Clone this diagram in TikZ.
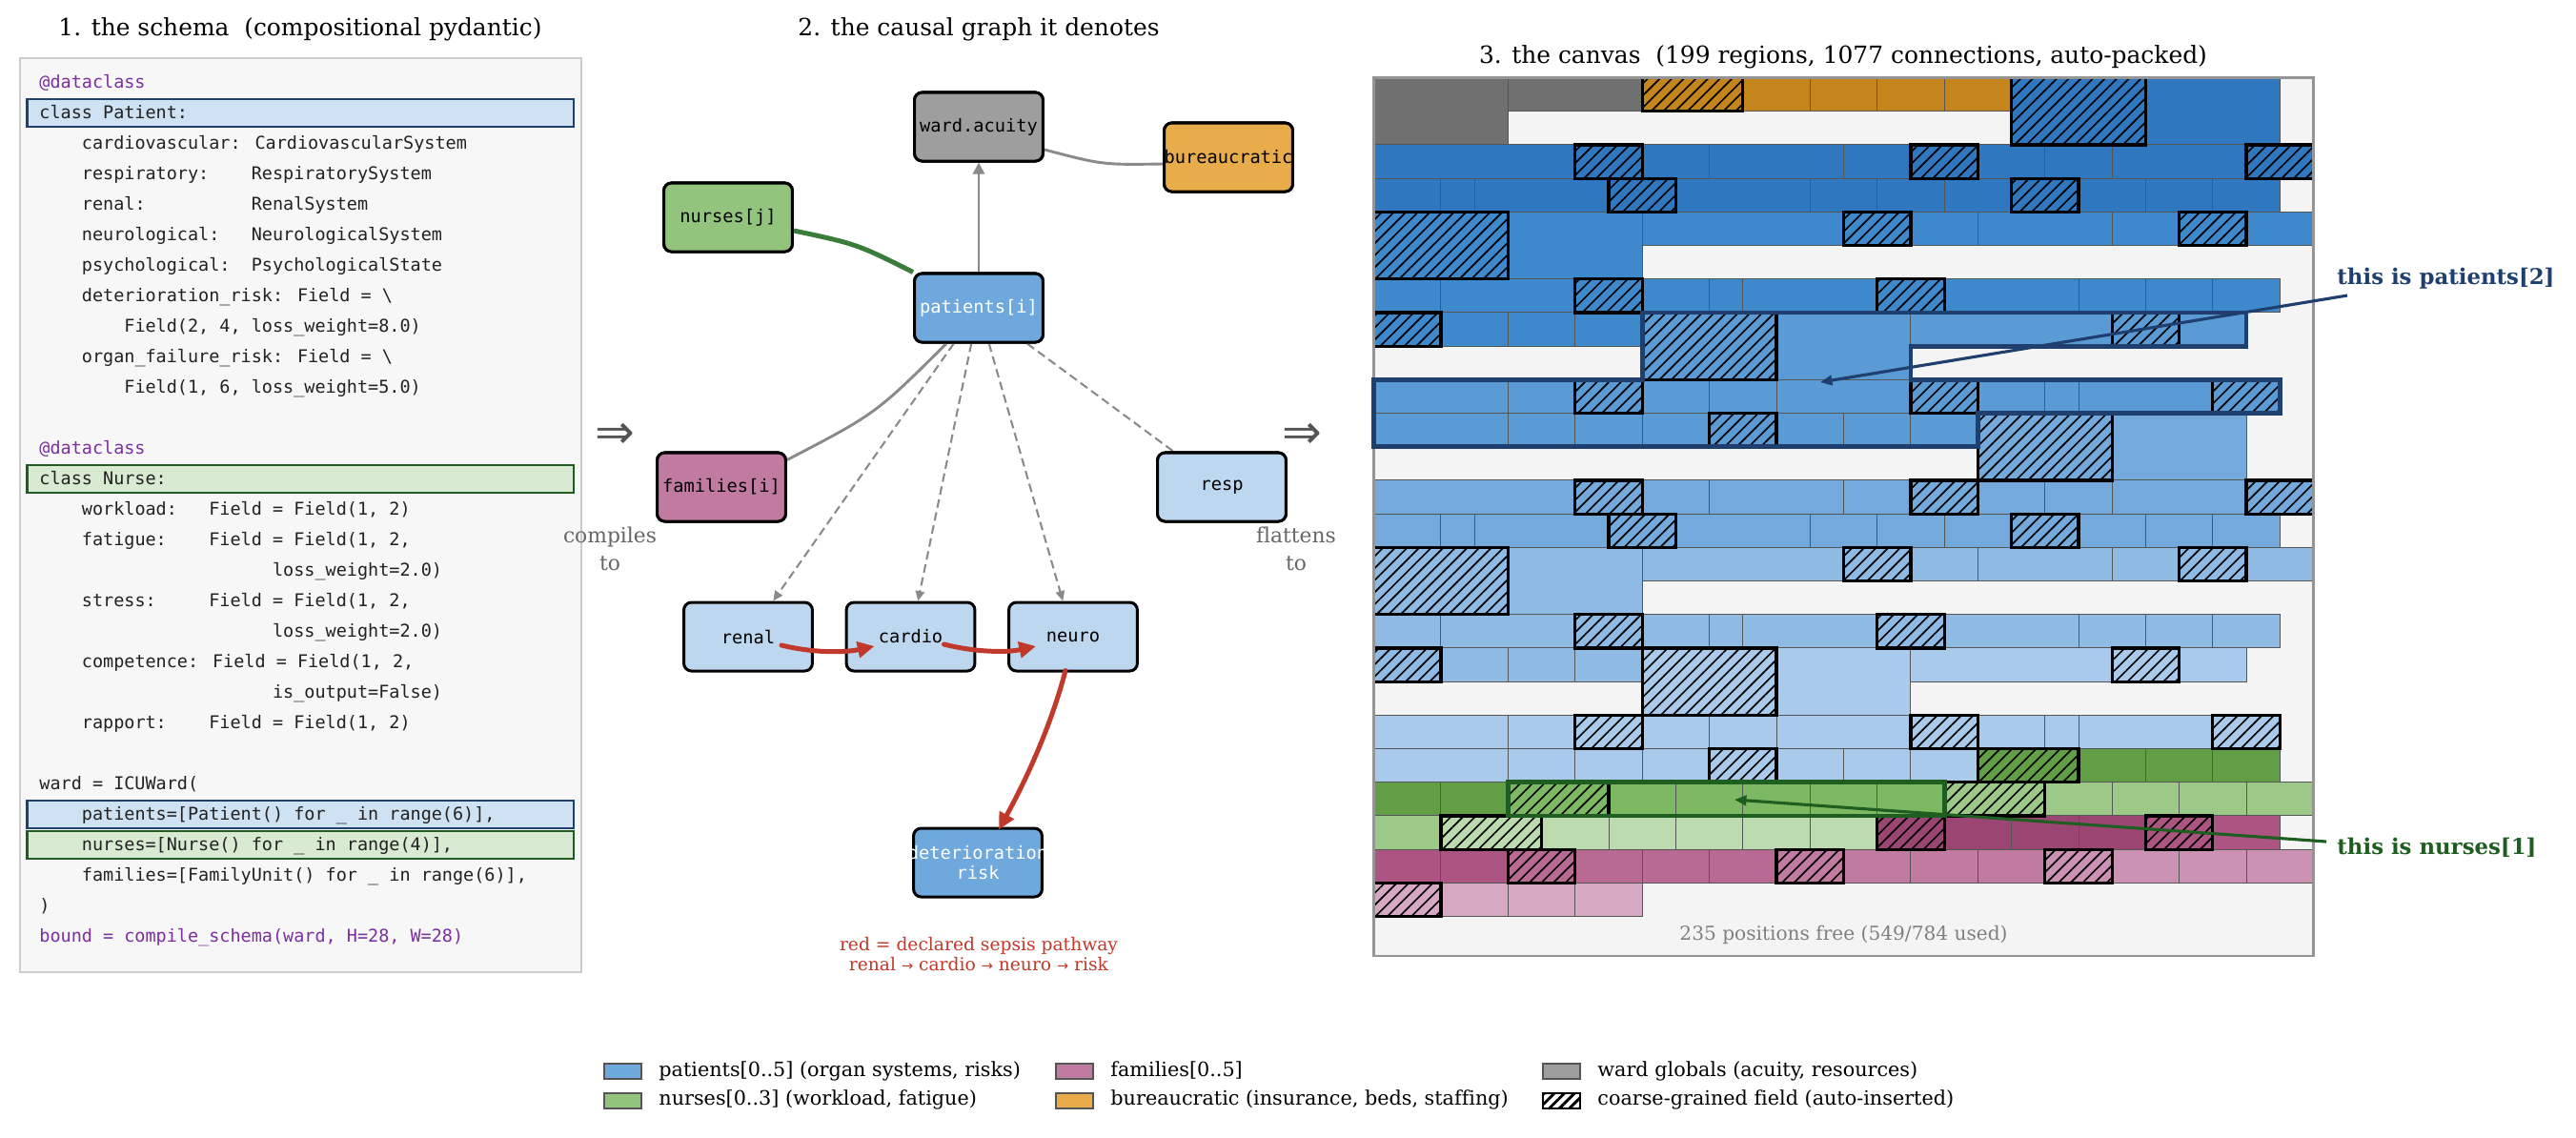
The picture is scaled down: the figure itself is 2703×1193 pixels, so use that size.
\documentclass[tikz,border=0pt]{standalone}
\usepackage{fontspec}
\setmainfont{DejaVu Serif}[Ligatures=NoCommon]
\newfontfamily\codefont{DejaVu Sans Mono}
\newfontfamily\symfont{DejaVu Sans}
\usetikzlibrary{arrows.meta,patterns.meta,calc}

\definecolor{p0}{HTML}{2F78BF}
\definecolor{p1}{HTML}{3D89CC}
\definecolor{p2}{HTML}{5A9AD5}
\definecolor{p3}{HTML}{73A9DB}
\definecolor{p4}{HTML}{8EBAE3}
\definecolor{p5}{HTML}{A9CAEA}
\definecolor{n0}{HTML}{629E46}
\definecolor{n1}{HTML}{7DB862}
\definecolor{n2}{HTML}{9DC988}
\definecolor{n3}{HTML}{BBDBAE}
\definecolor{f0}{HTML}{9B4672}
\definecolor{f1}{HTML}{AD5582}
\definecolor{f2}{HTML}{B96A93}
\definecolor{f3}{HTML}{C27BA0}
\definecolor{f4}{HTML}{CC92B3}
\definecolor{f5}{HTML}{D6A8C2}
\definecolor{wg}{HTML}{707070}
\definecolor{bo}{HTML}{C4861C}
\definecolor{cellgrid}{HTML}{555555}
\definecolor{freebg}{HTML}{F4F4F4}
\definecolor{codepurple}{HTML}{7B2FA0}
\definecolor{codetext}{HTML}{222222}
\definecolor{navy}{HTML}{1F3F6E}
\definecolor{dgreen}{HTML}{1E5E20}
\definecolor{sepsis}{HTML}{C0392B}
\definecolor{hlblue}{HTML}{CFE2F3}
\definecolor{hlgreen}{HTML}{D9EAD3}
\definecolor{nodegray}{HTML}{9E9E9E}
\definecolor{nodeorange}{HTML}{E8AD4A}
\definecolor{nodegreen}{HTML}{93C47D}
\definecolor{nodeblue}{HTML}{6FA8DC}
\definecolor{nodepink}{HTML}{C27BA0}
\definecolor{nodelight}{HTML}{BDD7EE}
\definecolor{edgegray}{HTML}{8A8A8A}
\definecolor{edgegreen}{HTML}{3A7D3A}

\newcommand\cnorm[5]{\fill[#5] (#1,#2) rectangle ++(#3,#4); \draw[cellline] (#1,#2) rectangle ++(#3,#4);}
\newcommand\chatch[5]{\fill[#5] (#1,#2) rectangle ++(#3,#4); \fill[hatchfill] (#1,#2) rectangle ++(#3,#4); \draw[hatchline] (#1,#2) rectangle ++(#3,#4);}
\newcommand\codeln[3]{\node[codestyle, text=#3, anchor=base west] (code#1) at (41,{92.7+32*#1}) {#2};}

\begin{document}
\begin{tikzpicture}[x=0.4818pt,y=-0.4818pt,
  cellline/.style={draw=cellgrid, line width=0.5pt},
  hatchfill/.style={pattern={Lines[angle=45,distance=4.3pt,line width=0.8pt]}, pattern color=black},
  hatchline/.style={draw=black, line width=1.55pt},
  gnode/.style={draw=black, line width=1.45pt, rounded corners=3.9pt, minimum width=65pt, minimum height=34.7pt, inner sep=0pt},
  gtext/.style={font=\codefont\fontsize{9}{10.5}\selectfont, align=center, inner sep=0pt},
  codestyle/.style={font=\codefont\fontsize{8.9}{10}\selectfont, inner sep=0pt},
  titlestyle/.style={font=\fontsize{12}{14}\selectfont, anchor=base, inner sep=0pt},
  legtext/.style={font=\fontsize{10}{12}\selectfont, anchor=base west, inner sep=0pt},
  legpatch/.style={draw=cellgrid, line width=1.2pt},
  grayedge/.style={draw=edgegray, line width=1.4pt},
  dashedge/.style={draw=edgegray, line width=1pt, dash pattern=on 4.3pt off 2.4pt},
  rededge/.style={draw=sepsis, line width=2.4pt, line cap=round, -{Triangle[length=8.5pt,width=8pt]}},
]
\useasboundingbox (0,0) rectangle (2703,1193);
\fill[white] (0,0) rectangle (2703,1193);

% ---------------- titles
\node[titlestyle] (t1) at (315,37) {1. the schema~~(compositional pydantic)};
\node[titlestyle] (t2) at (1027,37) {2. the causal graph it denotes};
\node[titlestyle] (t3) at (1934,66) {3. the canvas~~(199 regions, 1077 connections, auto-packed)};

% ---------------- panel 1: code
\draw[fill=black!3, draw=black!20, line width=1.2pt] (21,61) rectangle (610,1020);
\draw[fill=hlblue, draw=navy, line width=1.3pt] (28.5,104) rectangle (602,133);
\draw[fill=hlgreen, draw=dgreen, line width=1.3pt] (28.5,488) rectangle (602,517);
\draw[fill=hlblue, draw=navy, line width=1.3pt] (28.5,840) rectangle (602,869);
\draw[fill=hlgreen, draw=dgreen, line width=1.3pt] (28.5,872) rectangle (602,901);

\codeln{0}{@dataclass}{codepurple}
\codeln{1}{class Patient:}{codetext}
\codeln{2}{~~~~cardiovascular: CardiovascularSystem}{codetext}
\codeln{3}{~~~~respiratory:~~~~RespiratorySystem}{codetext}
\codeln{4}{~~~~renal:~~~~~~~~~~RenalSystem}{codetext}
\codeln{5}{~~~~neurological:~~~NeurologicalSystem}{codetext}
\codeln{6}{~~~~psychological:~~PsychologicalState}{codetext}
\codeln{7}{~~~~deterioration\_risk: Field = \textbackslash}{codetext}
\codeln{8}{~~~~~~~~Field(2, 4, loss\_weight=8.0)}{codetext}
\codeln{9}{~~~~organ\_failure\_risk: Field = \textbackslash}{codetext}
\codeln{10}{~~~~~~~~Field(1, 6, loss\_weight=5.0)}{codetext}
\codeln{12}{@dataclass}{codepurple}
\codeln{13}{class Nurse:}{codetext}
\codeln{14}{~~~~workload:~~~Field = Field(1, 2)}{codetext}
\codeln{15}{~~~~fatigue:~~~~Field = Field(1, 2,}{codetext}
\codeln{16}{~~~~~~~~~~~~~~~~~~~~~~loss\_weight=2.0)}{codetext}
\codeln{17}{~~~~stress:~~~~~Field = Field(1, 2,}{codetext}
\codeln{18}{~~~~~~~~~~~~~~~~~~~~~~loss\_weight=2.0)}{codetext}
\codeln{19}{~~~~competence: Field = Field(1, 2,}{codetext}
\codeln{20}{~~~~~~~~~~~~~~~~~~~~~~is\_output=False)}{codetext}
\codeln{21}{~~~~rapport:~~~~Field = Field(1, 2)}{codetext}
\codeln{23}{ward = ICUWard(}{codetext}
\codeln{24}{~~~~patients=[Patient() for \_ in range(6)],}{codetext}
\codeln{25}{~~~~nurses=[Nurse() for \_ in range(4)],}{codetext}
\codeln{26}{~~~~families=[FamilyUnit() for \_ in range(6)],}{codetext}
\codeln{27}{)}{codetext}
\codeln{28}{bound = compile\_schema(ward, H=28, W=28)}{codepurple}

% ---------------- panel 2: graph nodes
\node[gnode, fill=nodegray] (ward) at (1027,133) {};
\node[gnode, fill=nodeorange] (bureau) at (1289,165) {};
\node[gnode, fill=nodegreen] (nurse) at (764,228) {};
\node[gnode, fill=nodeblue] (patient) at (1027,323) {};
\node[gnode, fill=nodepink] (family) at (757,511) {};
\node[gnode, fill=nodelight] (resp) at (1282,511) {};
\node[gnode, fill=nodelight] (renal) at (785,668) {};
\node[gnode, fill=nodelight] (cardio) at (955.5,668) {};
\node[gnode, fill=nodelight] (neuro) at (1126,668) {};
\node[gnode, fill=nodeblue] (det) at (1026,905) {};

% connectors (under the labels)
\coordinate (bureauS) at ($(bureau.west)+(0,7)$);
\coordinate (wardE) at ($(ward.east)+(0,24)$);
\coordinate (nurseE) at ($(nurse.east)+(0,14)$);
\coordinate (famS) at ($(family.north east)+(0,9)$);
\coordinate (patSW) at ($(patient.south)+(-34,0)$);
\draw[grayedge, -{Triangle[length=5.8pt,width=5.8pt]}] (patient) -- (ward);
\draw[grayedge] (bureauS) .. controls (1157,173) .. (wardE);
\draw[draw=edgegreen, line width=2.4pt] (nurseE) .. controls (899,256) .. (patient.north west);
\draw[grayedge] (famS) .. controls (919,434) .. (patSW);
\draw[dashedge, -{Triangle[length=5pt,width=4.5pt]}] (patient) -- (renal);
\draw[dashedge, -{Triangle[length=5pt,width=4.5pt]}] (patient) -- (cardio);
\draw[dashedge, -{Triangle[length=5pt,width=4.5pt]}] (patient) -- (neuro);
\draw[dashedge] (patient) -- (resp);

% redraw the node boxes on top of the connector ends
\node[gnode, fill=nodegray] (wardB) at (ward) {};
\node[gnode, fill=nodeorange] (bureauB) at (bureau) {};
\node[gnode, fill=nodegreen] (nurseB) at (nurse) {};
\node[gnode, fill=nodeblue] (patientB) at (patient) {};
\node[gnode, fill=nodepink] (familyB) at (family) {};
\node[gnode, fill=nodelight] (respB) at (resp) {};

\node[gtext] (wardT) at (ward) {ward.acuity};
\node[gtext] (bureauT) at (bureau) {bureaucratic};
\node[gtext] (nurseT) at (nurse) {nurses[j]};
\node[gtext, text=white] (patientT) at (patient) {patients[i]};
\node[gtext] (familyT) at (family) {families[i]};
\node[gtext] (respT) at (resp) {resp};
\node[gtext] (renalT) at (renal) {renal};
\node[gtext] (cardioT) at (cardio) {cardio};
\node[gtext] (neuroT) at (neuro) {neuro};
\node[gtext, text=white] (detT) at (det) {deterioration\\risk};

% red sepsis pathway
\coordinate (r1s) at ($(renal.center)+(35,9)$);
\coordinate (r1e) at ($(cardio.center)+(-38,10)$);
\coordinate (r2s) at ($(cardio.center)+(35,8)$);
\coordinate (r2e) at ($(neuro.center)+(-39,10)$);
\coordinate (r3s) at ($(neuro.south)+(-8,-2)$);
\coordinate (r3e) at ($(det.north)+(22,3)$);
\draw[rededge] (r1s) .. controls (853,685) and (885,685) .. (r1e);
\draw[rededge] (r2s) .. controls (1022,684) and (1055,685) .. (r2e);
\draw[rededge] (r3s) .. controls (1104,757) and (1080,812) .. (r3e);

\node[font=\fontsize{9}{11}\selectfont, text=sepsis, anchor=base, inner sep=0pt] (cap1) at (1027,997) {red = declared sepsis pathway};
\node[font=\fontsize{9}{11}\selectfont, text=sepsis, anchor=base, inner sep=0pt] (cap2) at (1027,1018) {renal {\symfont\fontsize{7}{9}\selectfont →} cardio {\symfont\fontsize{7}{9}\selectfont →} neuro {\symfont\fontsize{7}{9}\selectfont →} risk};

% ---------------- between panels
\node[font=\symfont\fontsize{24}{26}\selectfont, text=black!67, inner sep=0pt] (imp1) at (645,457) {⇒};
\node[font=\fontsize{10.5}{14}\selectfont, text=black!60, align=center, inner sep=0pt, anchor=base] (comp) at (640,598) {compiles\\[-0.5pt]to};
\node[font=\symfont\fontsize{24}{26}\selectfont, text=black!67, inner sep=0pt] (imp2) at (1366,457) {⇒};
\node[font=\fontsize{10.5}{14}\selectfont, text=black!60, align=center, inner sep=0pt, anchor=base] (flat) at (1360,598) {flattens\\[-0.5pt]to};

% ---------------- panel 3: canvas
\begin{scope}[xshift=694.51pt, yshift=-39.27pt, x=16.966pt, y=-16.96pt]
\fill[freebg] (0,0) rectangle (28,26.18);
% ward globals + bureaucratic
\cnorm{0}{0}{4}{2}{wg} \cnorm{4}{0}{4}{1}{wg}
\cnorm{11}{0}{2}{1}{bo} \cnorm{13}{0}{2}{1}{bo} \cnorm{15}{0}{2}{1}{bo} \cnorm{17}{0}{2}{1}{bo}
% patient 0
\cnorm{23}{0}{4}{2}{p0}
\cnorm{0}{2}{6}{1}{p0} \cnorm{8}{2}{2}{1}{p0} \cnorm{10}{2}{4}{1}{p0} \cnorm{14}{2}{2}{1}{p0}
\cnorm{18}{2}{2}{1}{p0} \cnorm{20}{2}{2}{1}{p0} \cnorm{22}{2}{4}{1}{p0}
\cnorm{0}{3}{2}{1}{p0} \cnorm{2}{3}{1}{1}{p0} \cnorm{3}{3}{4}{1}{p0} \cnorm{9}{3}{4}{1}{p0}
\cnorm{13}{3}{2}{1}{p0} \cnorm{15}{3}{2}{1}{p0} \cnorm{17}{3}{2}{1}{p0}
\cnorm{21}{3}{2}{1}{p0} \cnorm{23}{3}{2}{1}{p0} \cnorm{25}{3}{2}{1}{p0}
% patient 1
\cnorm{4}{4}{4}{2}{p1}
\cnorm{8}{4}{6}{1}{p1} \cnorm{16}{4}{2}{1}{p1} \cnorm{18}{4}{4}{1}{p1} \cnorm{22}{4}{2}{1}{p1} \cnorm{26}{4}{2}{1}{p1}
\cnorm{0}{6}{2}{1}{p1} \cnorm{2}{6}{4}{1}{p1} \cnorm{8}{6}{2}{1}{p1} \cnorm{10}{6}{1}{1}{p1} \cnorm{11}{6}{4}{1}{p1}
\cnorm{17}{6}{4}{1}{p1} \cnorm{21}{6}{2}{1}{p1} \cnorm{23}{6}{2}{1}{p1} \cnorm{25}{6}{2}{1}{p1}
\cnorm{2}{7}{2}{1}{p1} \cnorm{4}{7}{2}{1}{p1} \cnorm{6}{7}{2}{1}{p1}
% patient 2
\cnorm{12}{7}{4}{2}{p2}
\cnorm{16}{7}{6}{1}{p2} \cnorm{24}{7}{2}{1}{p2}
\cnorm{0}{9}{4}{1}{p2} \cnorm{4}{9}{2}{1}{p2} \cnorm{8}{9}{2}{1}{p2} \cnorm{10}{9}{2}{1}{p2} \cnorm{12}{9}{4}{1}{p2}
\cnorm{18}{9}{2}{1}{p2} \cnorm{20}{9}{1}{1}{p2} \cnorm{21}{9}{4}{1}{p2}
\cnorm{0}{10}{4}{1}{p2} \cnorm{4}{10}{2}{1}{p2} \cnorm{6}{10}{2}{1}{p2} \cnorm{8}{10}{2}{1}{p2}
\cnorm{12}{10}{2}{1}{p2} \cnorm{14}{10}{2}{1}{p2} \cnorm{16}{10}{2}{1}{p2}
% patient 3
\cnorm{22}{10}{4}{2}{p3}
\cnorm{0}{12}{6}{1}{p3} \cnorm{8}{12}{2}{1}{p3} \cnorm{10}{12}{4}{1}{p3} \cnorm{14}{12}{2}{1}{p3}
\cnorm{18}{12}{2}{1}{p3} \cnorm{20}{12}{2}{1}{p3} \cnorm{22}{12}{4}{1}{p3}
\cnorm{0}{13}{2}{1}{p3} \cnorm{2}{13}{1}{1}{p3} \cnorm{3}{13}{4}{1}{p3} \cnorm{9}{13}{4}{1}{p3}
\cnorm{13}{13}{2}{1}{p3} \cnorm{15}{13}{2}{1}{p3} \cnorm{17}{13}{2}{1}{p3}
\cnorm{21}{13}{2}{1}{p3} \cnorm{23}{13}{2}{1}{p3} \cnorm{25}{13}{2}{1}{p3}
% patient 4
\cnorm{4}{14}{4}{2}{p4}
\cnorm{8}{14}{6}{1}{p4} \cnorm{16}{14}{2}{1}{p4} \cnorm{18}{14}{4}{1}{p4} \cnorm{22}{14}{2}{1}{p4} \cnorm{26}{14}{2}{1}{p4}
\cnorm{0}{16}{2}{1}{p4} \cnorm{2}{16}{4}{1}{p4} \cnorm{8}{16}{2}{1}{p4} \cnorm{10}{16}{1}{1}{p4} \cnorm{11}{16}{4}{1}{p4}
\cnorm{17}{16}{4}{1}{p4} \cnorm{21}{16}{2}{1}{p4} \cnorm{23}{16}{2}{1}{p4} \cnorm{25}{16}{2}{1}{p4}
\cnorm{2}{17}{2}{1}{p4} \cnorm{4}{17}{2}{1}{p4} \cnorm{6}{17}{2}{1}{p4}
% patient 5
\cnorm{12}{17}{4}{2}{p5}
\cnorm{16}{17}{6}{1}{p5} \cnorm{24}{17}{2}{1}{p5}
\cnorm{0}{19}{4}{1}{p5} \cnorm{4}{19}{2}{1}{p5} \cnorm{8}{19}{2}{1}{p5} \cnorm{10}{19}{2}{1}{p5} \cnorm{12}{19}{4}{1}{p5}
\cnorm{18}{19}{2}{1}{p5} \cnorm{20}{19}{1}{1}{p5} \cnorm{21}{19}{4}{1}{p5}
\cnorm{0}{20}{4}{1}{p5} \cnorm{4}{20}{2}{1}{p5} \cnorm{6}{20}{2}{1}{p5} \cnorm{8}{20}{2}{1}{p5}
\cnorm{12}{20}{2}{1}{p5} \cnorm{14}{20}{2}{1}{p5} \cnorm{16}{20}{2}{1}{p5}
% nurses
\cnorm{21}{20}{2}{1}{n0} \cnorm{23}{20}{2}{1}{n0} \cnorm{25}{20}{2}{1}{n0} \cnorm{0}{21}{2}{1}{n0} \cnorm{2}{21}{2}{1}{n0}
\cnorm{7}{21}{2}{1}{n1} \cnorm{9}{21}{2}{1}{n1} \cnorm{11}{21}{2}{1}{n1} \cnorm{13}{21}{2}{1}{n1} \cnorm{15}{21}{2}{1}{n1}
\cnorm{20}{21}{2}{1}{n2} \cnorm{22}{21}{2}{1}{n2} \cnorm{24}{21}{2}{1}{n2} \cnorm{26}{21}{2}{1}{n2} \cnorm{0}{22}{2}{1}{n2}
\cnorm{5}{22}{2}{1}{n3} \cnorm{7}{22}{2}{1}{n3} \cnorm{9}{22}{2}{1}{n3} \cnorm{11}{22}{2}{1}{n3} \cnorm{13}{22}{2}{1}{n3}
% families
\cnorm{17}{22}{2}{1}{f0} \cnorm{19}{22}{2}{1}{f0} \cnorm{21}{22}{2}{1}{f0}
\cnorm{25}{22}{2}{1}{f1} \cnorm{0}{23}{2}{1}{f1} \cnorm{2}{23}{2}{1}{f1}
\cnorm{6}{23}{2}{1}{f2} \cnorm{8}{23}{2}{1}{f2} \cnorm{10}{23}{2}{1}{f2}
\cnorm{14}{23}{2}{1}{f3} \cnorm{16}{23}{2}{1}{f3} \cnorm{18}{23}{2}{1}{f3}
\cnorm{22}{23}{2}{1}{f4} \cnorm{24}{23}{2}{1}{f4} \cnorm{26}{23}{2}{1}{f4}
\cnorm{2}{24}{2}{1}{f5} \cnorm{4}{24}{2}{1}{f5} \cnorm{6}{24}{2}{1}{f5}
% coarse-grained (hatched) fields
\chatch{8}{0}{3}{1}{bo}
\chatch{19}{0}{4}{2}{p0} \chatch{6}{2}{2}{1}{p0} \chatch{16}{2}{2}{1}{p0} \chatch{26}{2}{2}{1}{p0} \chatch{7}{3}{2}{1}{p0} \chatch{19}{3}{2}{1}{p0}
\chatch{0}{4}{4}{2}{p1} \chatch{14}{4}{2}{1}{p1} \chatch{24}{4}{2}{1}{p1} \chatch{6}{6}{2}{1}{p1} \chatch{15}{6}{2}{1}{p1} \chatch{0}{7}{2}{1}{p1}
\chatch{8}{7}{4}{2}{p2} \chatch{22}{7}{2}{1}{p2} \chatch{6}{9}{2}{1}{p2} \chatch{16}{9}{2}{1}{p2} \chatch{25}{9}{2}{1}{p2} \chatch{10}{10}{2}{1}{p2}
\chatch{18}{10}{4}{2}{p3} \chatch{6}{12}{2}{1}{p3} \chatch{16}{12}{2}{1}{p3} \chatch{26}{12}{2}{1}{p3} \chatch{7}{13}{2}{1}{p3} \chatch{19}{13}{2}{1}{p3}
\chatch{0}{14}{4}{2}{p4} \chatch{14}{14}{2}{1}{p4} \chatch{24}{14}{2}{1}{p4} \chatch{6}{16}{2}{1}{p4} \chatch{15}{16}{2}{1}{p4} \chatch{0}{17}{2}{1}{p4}
\chatch{8}{17}{4}{2}{p5} \chatch{22}{17}{2}{1}{p5} \chatch{6}{19}{2}{1}{p5} \chatch{16}{19}{2}{1}{p5} \chatch{25}{19}{2}{1}{p5} \chatch{10}{20}{2}{1}{p5}
\chatch{18}{20}{3}{1}{n0} \chatch{4}{21}{3}{1}{n1} \chatch{17}{21}{3}{1}{n2} \chatch{2}{22}{3}{1}{n3}
\chatch{15}{22}{2}{1}{f0} \chatch{23}{22}{2}{1}{f1} \chatch{4}{23}{2}{1}{f2} \chatch{12}{23}{2}{1}{f3} \chatch{20}{23}{2}{1}{f4} \chatch{0}{24}{2}{1}{f5}
% frame
\draw[draw=black!42, line width=1pt] (0,0) rectangle (28,26.18);
% highlight outlines
\draw[navy, line width=2.3pt] (8,7) -- (26,7) -- (26,8) -- (16,8) -- (16,9) -- (27,9) -- (27,10) -- (18,10) -- (18,11) -- (0,11) -- (0,9) -- (8,9) -- cycle;
\draw[dgreen, line width=2.3pt] (4,21) rectangle (17,22);
\node[font=\fontsize{9.7}{12}\selectfont, text=black!50, anchor=base, inner sep=0pt] (freetxt) at (14,25.72) {235 positions free (549/784 used)};
\end{scope}

% annotations
\node[font=\bfseries\fontsize{11}{13}\selectfont, text=navy, anchor=base west, inner sep=0pt] (annP) at (2452,298) {this is patients[2]};
\coordinate (annPs) at (2463,310);
\coordinate (annPt) at (1910,401);
\draw[navy, line width=1.5pt, -{Triangle[length=6pt,width=5pt]}] (annPs) -- (annPt);
\node[font=\bfseries\fontsize{11}{13}\selectfont, text=dgreen, anchor=base west, inner sep=0pt] (annN) at (2452,896) {this is nurses[1]};
\coordinate (annNs) at (2441,883);
\coordinate (annNt) at (1820,839);
\draw[dgreen, line width=1.5pt, -{Triangle[length=6pt,width=5pt]}] (annNs) -- (annNt);

% ---------------- legend
\draw[legpatch, fill=nodeblue] (634,1116) rectangle (673,1132);
\node[legtext] (lg1) at (691,1129) {patients[0..5] (organ systems, risks)};
\draw[legpatch, fill=nodegreen] (634,1147) rectangle (673,1163);
\node[legtext] (lg2) at (691,1159) {nurses[0..3] (workload, fatigue)};
\draw[legpatch, fill=nodepink] (1108,1116) rectangle (1147,1132);
\node[legtext] (lg3) at (1165,1129) {families[0..5]};
\draw[legpatch, fill=nodeorange] (1108,1147) rectangle (1147,1163);
\node[legtext] (lg4) at (1165,1159) {bureaucratic (insurance, beds, staffing)};
\draw[legpatch, fill=nodegray] (1619,1116) rectangle (1658,1132);
\node[legtext] (lg5) at (1676,1129) {ward globals (acuity, resources)};
\fill[white] (1619,1147) rectangle (1658,1163);
\fill[pattern={Lines[angle=45,distance=3.6pt,line width=1.4pt]}, pattern color=black] (1619,1147) rectangle (1658,1163);
\draw[draw=black, line width=1.2pt] (1619,1147) rectangle (1658,1163);
\node[legtext] (lg6) at (1676,1159) {coarse-grained field (auto-inserted)};
\end{tikzpicture}
\end{document}
